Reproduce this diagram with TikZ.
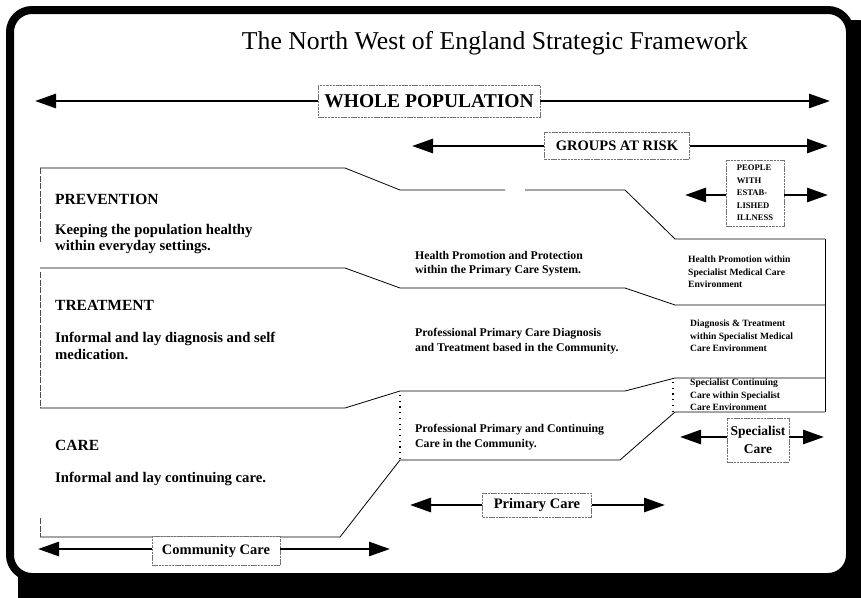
\documentclass[tikz,border=0pt]{standalone}
\usepackage{fontspec}
\setmainfont{Liberation Serif}
\usetikzlibrary{arrows.meta}
\begin{document}
\begin{tikzpicture}[x=1pt,y=-1pt,
  band/.style={line width=0.8pt, line join=round},
  edge/.style={line width=0.6pt, black!70, dash pattern=on 6pt off 1.5pt},
  dots/.style={line width=1.1pt, dash pattern=on 1.2pt off 4.5pt},
  lbl/.style={draw=black!55, line width=0.6pt, dash pattern=on 2.5pt off 0.8pt, fill=white, inner sep=0pt, font=\bfseries},
  bigarrow/.style={line width=2.8pt, -{Triangle[length=21pt,width=14pt]}},
  txt/.style={anchor=north west, align=left, inner sep=0pt},
  head/.style={txt, font=\fontsize{15.5}{18}\selectfont\bfseries},
  left/.style={txt, font=\fontsize{14.7}{16.5}\selectfont\bfseries},
  mid/.style={txt, font=\fontsize{11.8}{14.5}\selectfont\bfseries},
  rgt/.style={txt, font=\fontsize{9.6}{12.5}\selectfont\bfseries}
]
\useasboundingbox (0,0) rectangle (861,597);
% frame with shadow
\fill[black, rounded corners=22pt] (18,20) rectangle (880,620);
\draw[line width=8pt, fill=white, rounded corners=22pt] (10,10) rectangle (850,577);

% title
\node[font=\fontsize{25.7}{30}\selectfont, inner sep=0pt] (title) at (495,43) {The North West of England Strategic Framework};

% band lines
\draw[band] (40,168) -- (345,168) -- (400,190) -- (505,190);
\draw[band] (525,190) -- (625,190) -- (675,239) -- (825,239);
\draw[band] (40,268) -- (345,268) -- (400,288) -- (625,288) -- (675,305) -- (825,305);
\draw[band] (40,408) -- (345,408) -- (400,391) -- (625,391) -- (675,378) -- (825,378);
\draw[band] (40,537) -- (340,537) -- (400,460) -- (620,460) -- (675,412) -- (825,412);
\draw[band] (825,239) -- (825,412);
\draw[edge] (40,168) -- (40,242);
\draw[edge] (40,272) -- (40,408);
\draw[edge] (40,518) -- (40,537);
\draw[dots] (400,395) -- (400,460);
\draw[dots] (673,382) -- (673,412);

% labelled arrows
\node[lbl, minimum width=222pt, minimum height=32pt, font=\fontsize{19.5}{21}\selectfont\bfseries] (wp) at (429,101) {WHOLE POPULATION};
\coordinate (wpL) at (35,101);
\coordinate (wpR) at (830,101);
\draw[bigarrow] (wp.west) -- (wpL);
\draw[bigarrow] (wp.east) -- (wpR);

\node[lbl, minimum width=145pt, minimum height=27pt, font=\fontsize{14.5}{16}\selectfont\bfseries] (gr) at (617,146) {GROUPS AT RISK};
\coordinate (grL) at (412,146);
\coordinate (grR) at (828,146);
\draw[bigarrow] (gr.west) -- (grL);
\draw[bigarrow] (gr.east) -- (grR);

\node[lbl, minimum width=58pt, minimum height=66pt, align=left, font=\fontsize{8.6}{12.5}\selectfont\bfseries] (pe) at (755,193) {PEOPLE\\WITH\\ESTAB-\\LISHED\\ILLNESS};
\coordinate (peL) at (685,195);
\coordinate (peR) at (828,195);
\draw[bigarrow] (pe.west |- peL) -- (peL);
\draw[bigarrow] (pe.east |- peR) -- (peR);

\node[lbl, minimum width=62pt, minimum height=44pt, align=center, font=\fontsize{13.5}{17.5}\selectfont\bfseries] (sc) at (758,440) {Specialist\\Care};
\coordinate (scL) at (680,437);
\coordinate (scR) at (824,437);
\draw[bigarrow] (sc.west |- scL) -- (scL);
\draw[bigarrow] (sc.east |- scR) -- (scR);

\node[lbl, minimum width=109pt, minimum height=24pt, font=\fontsize{14.5}{16}\selectfont\bfseries] (pc) at (537,505) {Primary Care};
\coordinate (pcL) at (410,505);
\coordinate (pcR) at (665,505);
\draw[bigarrow] (pc.west) -- (pcL);
\draw[bigarrow] (pc.east) -- (pcR);

\node[lbl, minimum width=128pt, minimum height=29pt, font=\fontsize{14.5}{16}\selectfont\bfseries] (cc) at (216,551) {Community Care};
\coordinate (ccL) at (38,549);
\coordinate (ccR) at (390,549);
\draw[bigarrow] (cc.west |- ccL) -- (ccL);
\draw[bigarrow] (cc.east |- ccR) -- (ccR);

% texts: prevention
\node[head] (hprev) at (55,194) {PREVENTION};
\node[left] (tprev) at (55,224) {Keeping the population healthy\\within everyday settings.};
\node[mid] (mprev) at (415,251) {Health Promotion and Protection\\within the Primary Care System.};
\node[rgt] (rprev) at (688,256) {Health Promotion within\\Specialist Medical Care\\Environment};
% treatment
\node[head] (htreat) at (55,300) {TREATMENT};
\node[left] (ttreat) at (55,332) {Informal and lay diagnosis and self\\medication.};
\node[mid] (mtreat) at (415,328) {Professional Primary Care Diagnosis\\and Treatment based in the Community.};
\node[rgt] (rtreat) at (690,320) {Diagnosis \& Treatment\\within Specialist Medical\\Care Environment};
% care
\node[head] (hcare) at (55,440) {CARE};
\node[left] (tcare) at (55,472) {Informal and lay continuing care.};
\node[mid] (mcare) at (415,424) {Professional Primary and Continuing\\Care in the Community.};
\node[rgt] (rcare) at (690,379) {Specialist Continuing\\Care within Specialist\\Care Environment};
\end{tikzpicture}
\end{document}
